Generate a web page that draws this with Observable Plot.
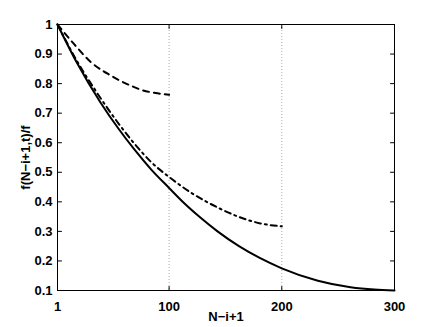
<!DOCTYPE html>
<html>
<head>
<meta charset="utf-8">
<script src="https://cdn.jsdelivr.net/npm/d3@7"></script>
<script src="https://cdn.jsdelivr.net/npm/@observablehq/plot@0.6"></script>
<style>
  html, body { margin: 0; padding: 0; background: #fff; }
</style>
</head>
<body>
<div id="chart"></div>
<script>
// x positions (N-i+1) and values f(N-i+1,t)/f
const solidX = [1, 18, 39, 55, 69, 84, 100, 113, 128, 143, 162, 180, 200, 232, 261, 282, 300];
const solidY = [1, 0.872, 0.737, 0.648, 0.578, 0.51, 0.447, 0.397, 0.346, 0.300, 0.250, 0.211, 0.175, 0.133, 0.111, 0.103, 0.1];

const dashedX = [1, 17, 30, 48, 56, 68, 76, 88, 100];
const dashedY = [1, 0.928, 0.875, 0.828, 0.811, 0.790, 0.778, 0.768, 0.762];

const dashDotX = [1, 18, 35, 53, 69, 84, 100, 122, 143, 162, 181, 200];
const dashDotY = [1, 0.878, 0.775, 0.676, 0.598, 0.535, 0.484, 0.425, 0.381, 0.349, 0.327, 0.317];

const xTicks = [1, 100, 200, 300];
const yTicks = [0.1, 0.2, 0.3, 0.4, 0.5, 0.6, 0.7, 0.8, 0.9, 1];
const gridX = [100, 200];

const toPts = (xs, ys) => xs.map((x, i) => ({x, y: ys[i]}));
const solid = toPts(solidX, solidY);
const dashed = toPts(dashedX, dashedY);
const dashDot = toPts(dashDotX, dashDotY);

const fmtY = d => d === 1 ? "1" : d.toFixed(1);
const tickShape = {draw(context, l) { context.moveTo(0, 0); context.lineTo(0, -l); }};
const inTick = (data, opts) => Plot.vector(data, {length: 4, anchor: "start", shape: tickShape, stroke: "#000", strokeWidth: 1, ...opts});

const chart = Plot.plot({
  width: 436,
  height: 327,
  marginLeft: 57,
  marginRight: 42,
  marginTop: 24,
  marginBottom: 37,
  style: {fontFamily: "'Liberation Sans', Arial, sans-serif", fontSize: "13px", fontWeight: "bold", background: "#fff", color: "#000"},
  x: {domain: [1, 300]},
  y: {domain: [0.1, 1]},
  marks: [
    Plot.gridX(gridX, {stroke: "#aaa", strokeOpacity: 1, strokeWidth: 1, strokeDasharray: "1,2"}),
    Plot.line(solid, {x: "x", y: "y", stroke: "#000", strokeWidth: 2, curve: "monotone-x"}),
    Plot.line(dashed, {x: "x", y: "y", stroke: "#000", strokeWidth: 2, strokeDasharray: "6,5", curve: "monotone-x"}),
    Plot.line(dashDot, {x: "x", y: "y", stroke: "#000", strokeWidth: 2, strokeDasharray: "6,4,2,4", curve: "monotone-x"}),
    Plot.frame({stroke: "#000", strokeWidth: 1}),
    inTick(xTicks, {x: d => d, frameAnchor: "bottom", rotate: 0}),
    inTick(xTicks, {x: d => d, frameAnchor: "top", rotate: 180}),
    inTick(yTicks, {y: d => d, frameAnchor: "left", rotate: 90}),
    inTick(yTicks, {y: d => d, frameAnchor: "right", rotate: 270}),
    Plot.axisX(xTicks, {anchor: "bottom", tickSize: 0, tickPadding: 11, label: "N\u2212i+1", labelAnchor: "center", labelArrow: "none", labelOffset: 30, fontWeight: "bold"}),
    Plot.axisY(yTicks, {anchor: "left", tickSize: 0, tickPadding: 5, tickFormat: fmtY, label: "f(N\u2212i+1,t)/f", labelAnchor: "center", labelArrow: "none", labelOffset: 37, fontWeight: "bold"})
  ]
});
document.getElementById("chart").appendChild(chart);
</script>
</body>
</html>
